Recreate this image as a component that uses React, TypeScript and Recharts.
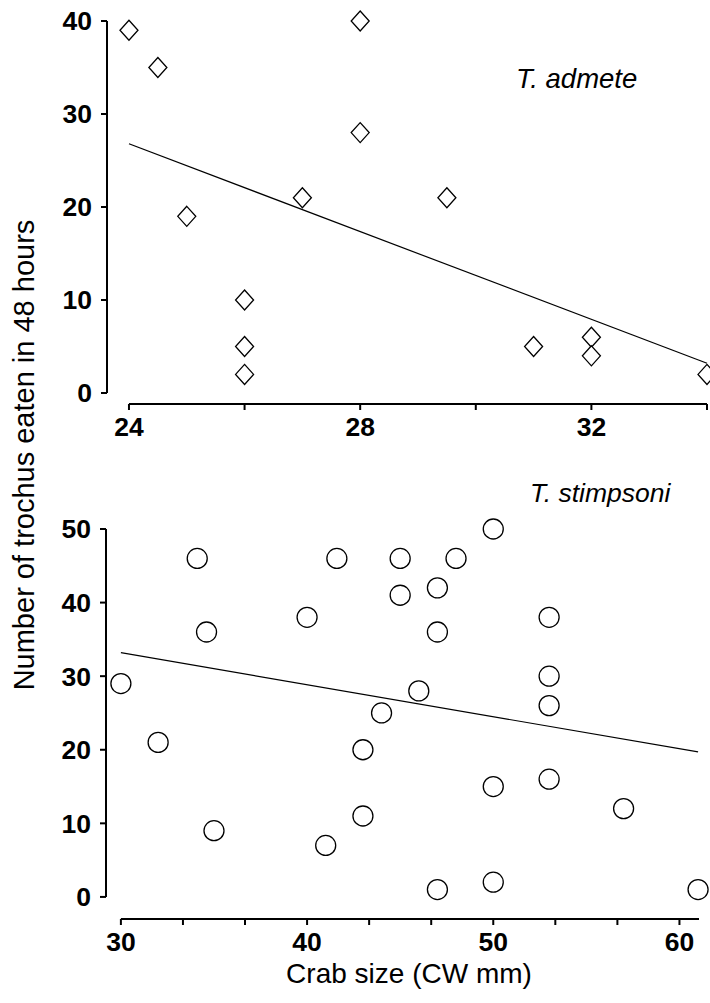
import React from 'react';
import { ScatterChart, Scatter, XAxis, YAxis, ReferenceLine } from 'recharts';

const FONT = '"Liberation Sans", Arial, Helvetica, sans-serif';

// T. admete (top panel)
const admeteSize = [24, 24.5, 25, 26, 26, 26, 27, 28, 28, 29.5, 31, 32, 32, 34];
const admeteEaten = [39, 35, 19, 10, 5, 2, 21, 40, 28, 21, 5, 6, 4, 2];
const admeteFitSize = [24, 34];
const admeteFitEaten = [26.8, 3.2];
const admeteXTicks = [24, 26, 28, 30, 32, 34];
const admeteXLabels = [24, 28, 32];
const admeteYTicks = [0, 10, 20, 30, 40];

// T. stimpsoni (bottom panel)
const stimpSize = [30, 32, 34.1, 34.6, 35, 40, 41, 41.6, 43, 43, 44, 45, 45, 46, 47, 47, 47, 48, 50, 50, 50, 53, 53, 53, 53, 57, 61];
const stimpEaten = [29, 21, 46, 36, 9, 38, 7, 46, 11, 20, 25, 46, 41, 28, 42, 36, 1, 46, 50, 15, 2, 38, 30, 26, 16, 12, 1];
const stimpFitSize = [30, 61];
const stimpFitEaten = [33.2, 19.7];
const stimpXTicks = [30, 33.333, 36.667, 40, 43.333, 46.667, 50, 53.333, 56.667, 60];
const stimpXLabels = [30, 40, 50, 60];
const stimpYTicks = [0, 10, 20, 30, 40, 50];

const toPoints = (xs: number[], ys: number[]) => xs.map((x, i) => ({ x, y: ys[i] }));

const tickStyle = { fill: '#000', fontSize: 26.5, fontWeight: 700, fontFamily: FONT };

const Diamond = (props: any) => {
  const { cx, cy } = props;
  return (
    <polygon
      points={`${cx},${cy - 10} ${cx + 9},${cy} ${cx},${cy + 10} ${cx - 9},${cy}`}
      fill="#fff"
      stroke="#000"
      strokeWidth={1.3}
    />
  );
};

const Ring = (props: any) => {
  const { cx, cy } = props;
  return <circle cx={cx} cy={cy} r={10} fill="#fff" stroke="#000" strokeWidth={1.3} />;
};

const NoDot = () => <g />;

const labelOnly = (shown: number[]) => (v: number) =>
  shown.some((s) => Math.abs(s - v) < 0.01) ? String(Math.round(v)) : '';

export default function App() {
  const admete = toPoints(admeteSize, admeteEaten);
  const admeteFit = toPoints(admeteFitSize, admeteFitEaten);
  const stimp = toPoints(stimpSize, stimpEaten);
  const stimpFit = toPoints(stimpFitSize, stimpFitEaten);

  const topXMin = 23.62;
  const topYMin = -1.18;
  const botXMin = 29.2;
  const botYMin = -3;

  return (
    <div style={{ position: 'absolute', left: 0, top: 0, width: 710, height: 1003, background: '#fff' }}>
      <div style={{ position: 'absolute', left: 0, top: 0 }}>
        <ScatterChart width={710} height={470} margin={{ top: 21, right: 3, bottom: 26, left: 47 }}>
          <XAxis
            type="number"
            dataKey="x"
            domain={[topXMin, 34]}
            ticks={admeteXTicks}
            tickFormatter={labelOnly(admeteXLabels)}
            axisLine={false}
            tickLine={{ stroke: '#000', strokeWidth: 2 }}
            tickSize={6}
            tickMargin={7}
            height={40}
            tick={tickStyle}
            interval={0}
          />
          <YAxis
            type="number"
            dataKey="y"
            domain={[topYMin, 40]}
            ticks={admeteYTicks}
            axisLine={false}
            tickLine={{ stroke: '#000', strokeWidth: 2 }}
            tickSize={6}
            tickMargin={9}
            width={60}
            tick={tickStyle}
            interval={0}
          />
          <ReferenceLine
            segment={[{ x: 24, y: topYMin }, { x: 34, y: topYMin }]}
            stroke="#000"
            strokeWidth={2}
            ifOverflow="visible"
          />
          <ReferenceLine
            segment={[{ x: topXMin, y: 0 }, { x: topXMin, y: 40 }]}
            stroke="#000"
            strokeWidth={2}
            ifOverflow="visible"
          />
          <Scatter data={admeteFit} line={{ stroke: '#000', strokeWidth: 1.2 }} shape={NoDot} isAnimationActive={false} />
          <Scatter data={admete} shape={Diamond} isAnimationActive={false} />
        </ScatterChart>
      </div>

      <div style={{ position: 'absolute', left: 0, top: 470 }}>
        <ScatterChart width={710} height={533} margin={{ top: 59, right: 11, bottom: 44, left: 46 }}>
          <XAxis
            type="number"
            dataKey="x"
            domain={[botXMin, 61.05]}
            ticks={stimpXTicks}
            tickFormatter={labelOnly(stimpXLabels)}
            axisLine={false}
            tickLine={{ stroke: '#000', strokeWidth: 2 }}
            tickSize={6}
            tickMargin={7}
            height={40}
            tick={tickStyle}
            interval={0}
          />
          <YAxis
            type="number"
            dataKey="y"
            domain={[botYMin, 50]}
            ticks={stimpYTicks}
            axisLine={false}
            tickLine={{ stroke: '#000', strokeWidth: 2 }}
            tickSize={6}
            tickMargin={9}
            width={60}
            tick={tickStyle}
            interval={0}
          />
          <ReferenceLine
            segment={[{ x: 30, y: botYMin }, { x: 61.05, y: botYMin }]}
            stroke="#000"
            strokeWidth={2}
            ifOverflow="visible"
          />
          <ReferenceLine
            segment={[{ x: botXMin, y: 0 }, { x: botXMin, y: 50 }]}
            stroke="#000"
            strokeWidth={2}
            ifOverflow="visible"
          />
          <Scatter data={stimpFit} line={{ stroke: '#000', strokeWidth: 1.2 }} shape={NoDot} isAnimationActive={false} />
          <Scatter data={stimp} shape={Ring} isAnimationActive={false} />
        </ScatterChart>
      </div>

      <svg
        width={710}
        height={1003}
        style={{ position: 'absolute', left: 0, top: 0, pointerEvents: 'none' }}
        fontFamily={FONT}
      >
        <text transform="translate(34,455) rotate(-90)" textAnchor="middle" fontSize={29} fill="#000">
          Number of trochus eaten in 48 hours
        </text>
        <text x={409} y={983} textAnchor="middle" fontSize={28} fill="#000">
          Crab size (CW mm)
        </text>
        <text x={516} y={88} fontSize={27.5} fontStyle="italic" fill="#000">
          T. admete
        </text>
        <text x={530} y={502} fontSize={26.5} fontStyle="italic" fill="#000">
          T. stimpsoni
        </text>
      </svg>
    </div>
  );
}
